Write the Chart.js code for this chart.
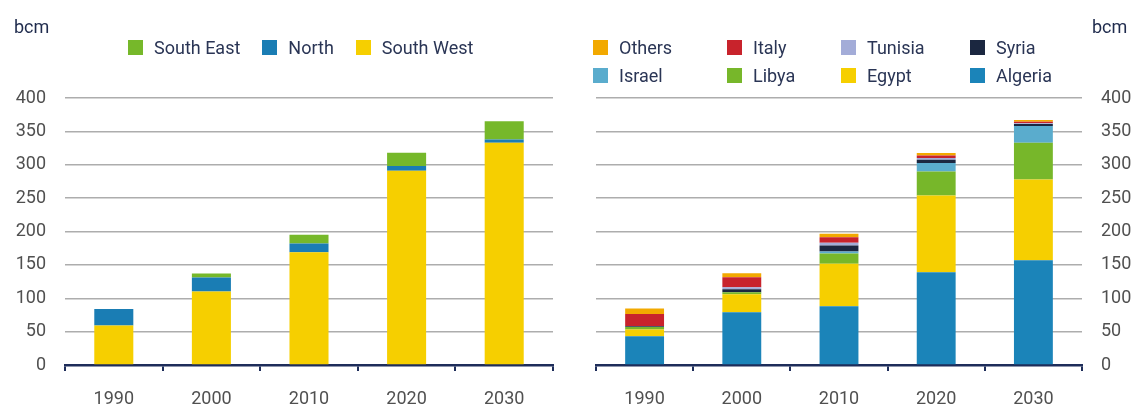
<!DOCTYPE html>
<html>
<head>
<meta charset="utf-8">
<script src="https://cdn.jsdelivr.net/npm/chart.js@4.4.1/dist/chart.umd.min.js"></script>
<style>
  body { margin: 0; background: #fff; font-family: Roboto, "Noto Sans", sans-serif; }
  .wrap { position: relative; width: 1136px; height: 405px; overflow: hidden; }
  canvas { position: absolute; top: 0; }
  #leftChart { left: 0; }
  #rightChart { left: 570px; }
  .unit { position: absolute; top: 17px; font-size: 18px; line-height: 20px; color: #1f2b4d; }
  .legend { position: absolute; font-size: 18px; color: #2a3555; }
  .legend .item { display: flex; align-items: center; height: 28px; white-space: nowrap; }
  .legend .box { width: 15px; height: 15px; margin-right: 11px; flex: none; }
  #leftLegend { left: 128px; top: 33px; display: flex; gap: 22px; }
  #rightLegend { left: 593px; top: 33px; display: grid; grid-template-columns: 134px 114px 129px auto; }
</style>
</head>
<body>
<div class="wrap">
  <canvas id="leftChart" width="570" height="405"></canvas>
  <canvas id="rightChart" width="566" height="405"></canvas>
  <div class="unit" style="left:14px">bcm</div>
  <div class="unit" style="left:1092px">bcm</div>
  <div class="legend" id="leftLegend"></div>
  <div class="legend" id="rightLegend"></div>
</div>
<script>
// data (bcm)
const years = ["1990", "2000", "2010", "2020", "2030"];

// left: by region
const southWest = [59, 110, 169, 291, 333];
const north = [25, 21, 13, 7, 5];
const southEast = [0, 6, 13, 20, 27];

// right: by country
const algeria = [43, 79, 88, 139, 157];
const egypt = [10, 27, 63.5, 115, 121];
const libya = [4, 3, 15.5, 36, 55];
const israel = [0, 0, 3, 12.5, 25];
const syria = [1, 4.5, 9, 5, 3];
const tunisia = [0.5, 3, 4, 2.5, 1];
const italy = [18, 15, 8.5, 4, 2.5];
const others = [8, 6, 5, 3.5, 2.5];

const yTicks = [0, 50, 100, 150, 200, 250, 300, 350, 400];

const axisColor = "#1e2d5a";
const gridColor = "#adadad";
const tickColor = "#505050";
const tickFont = { family: "Roboto", size: 18 };

function buildOptions(yPosition, yWidth, padding) {
  return {
    responsive: false,
    animation: false,
    layout: { padding: padding },
    plugins: { legend: { display: false }, tooltip: { enabled: false } },
    datasets: { bar: { barPercentage: 0.4, categoryPercentage: 1 } },
    scales: {
      x: {
        stacked: true,
        grid: {
          offset: true,
          drawOnChartArea: false,
          drawTicks: true,
          tickLength: 6,
          color: axisColor,
          lineWidth: 2,
        },
        border: { color: axisColor, width: 2.5 },
        ticks: { color: tickColor, font: tickFont, padding: 18 },
        afterFit: function (s) {
          s.height = 40;
        },
      },
      y: {
        stacked: true,
        position: yPosition,
        min: 0,
        max: 400,
        afterBuildTicks: function (s) {
          s.ticks = yTicks.map((v) => ({ value: v }));
        },
        grid: { color: gridColor, lineWidth: 1.5, drawTicks: false },
        border: { display: false },
        ticks: { color: tickColor, font: tickFont, padding: 19 },
        afterFit: function (s) {
          s.width = yWidth;
        },
      },
    },
  };
}

// Left chart
const leftChart = new Chart(document.getElementById("leftChart").getContext("2d"), {
  type: "bar",
  data: {
    labels: years,
    datasets: [
      { label: "South West", data: southWest, backgroundColor: "#f6cf00" },
      { label: "North", data: north, backgroundColor: "#1a7db4" },
      { label: "South East", data: southEast, backgroundColor: "#76b82a" },
    ],
  },
  options: buildOptions("left", 65, { top: 98, right: 17, bottom: 0, left: 0 }),
});

// Right chart
const rightChart = new Chart(document.getElementById("rightChart").getContext("2d"), {
  type: "bar",
  data: {
    labels: years,
    datasets: [
      { label: "Algeria", data: algeria, backgroundColor: "#1b84b9" },
      { label: "Egypt", data: egypt, backgroundColor: "#f6cf00" },
      { label: "Libya", data: libya, backgroundColor: "#77b72a" },
      { label: "Israel", data: israel, backgroundColor: "#5aaccd" },
      { label: "Syria", data: syria, backgroundColor: "#1b2740" },
      { label: "Tunisia", data: tunisia, backgroundColor: "#a3acd8" },
      { label: "Italy", data: italy, backgroundColor: "#c8232c" },
      { label: "Others", data: others, backgroundColor: "#f2a900" },
    ],
  },
  options: buildOptions("right", 54, { top: 98, right: 0, bottom: 0, left: 26 }),
});

// html legends, top of stack first
function fillLegend(chart, id) {
  const el = document.getElementById(id);
  chart.data.datasets.slice().reverse().forEach((ds) => {
    const item = document.createElement("div");
    item.className = "item";
    const box = document.createElement("span");
    box.className = "box";
    box.style.background = ds.backgroundColor;
    const text = document.createElement("span");
    text.textContent = ds.label;
    item.appendChild(box);
    item.appendChild(text);
    el.appendChild(item);
  });
}
fillLegend(leftChart, "leftLegend");
fillLegend(rightChart, "rightLegend");
</script>
</body>
</html>
